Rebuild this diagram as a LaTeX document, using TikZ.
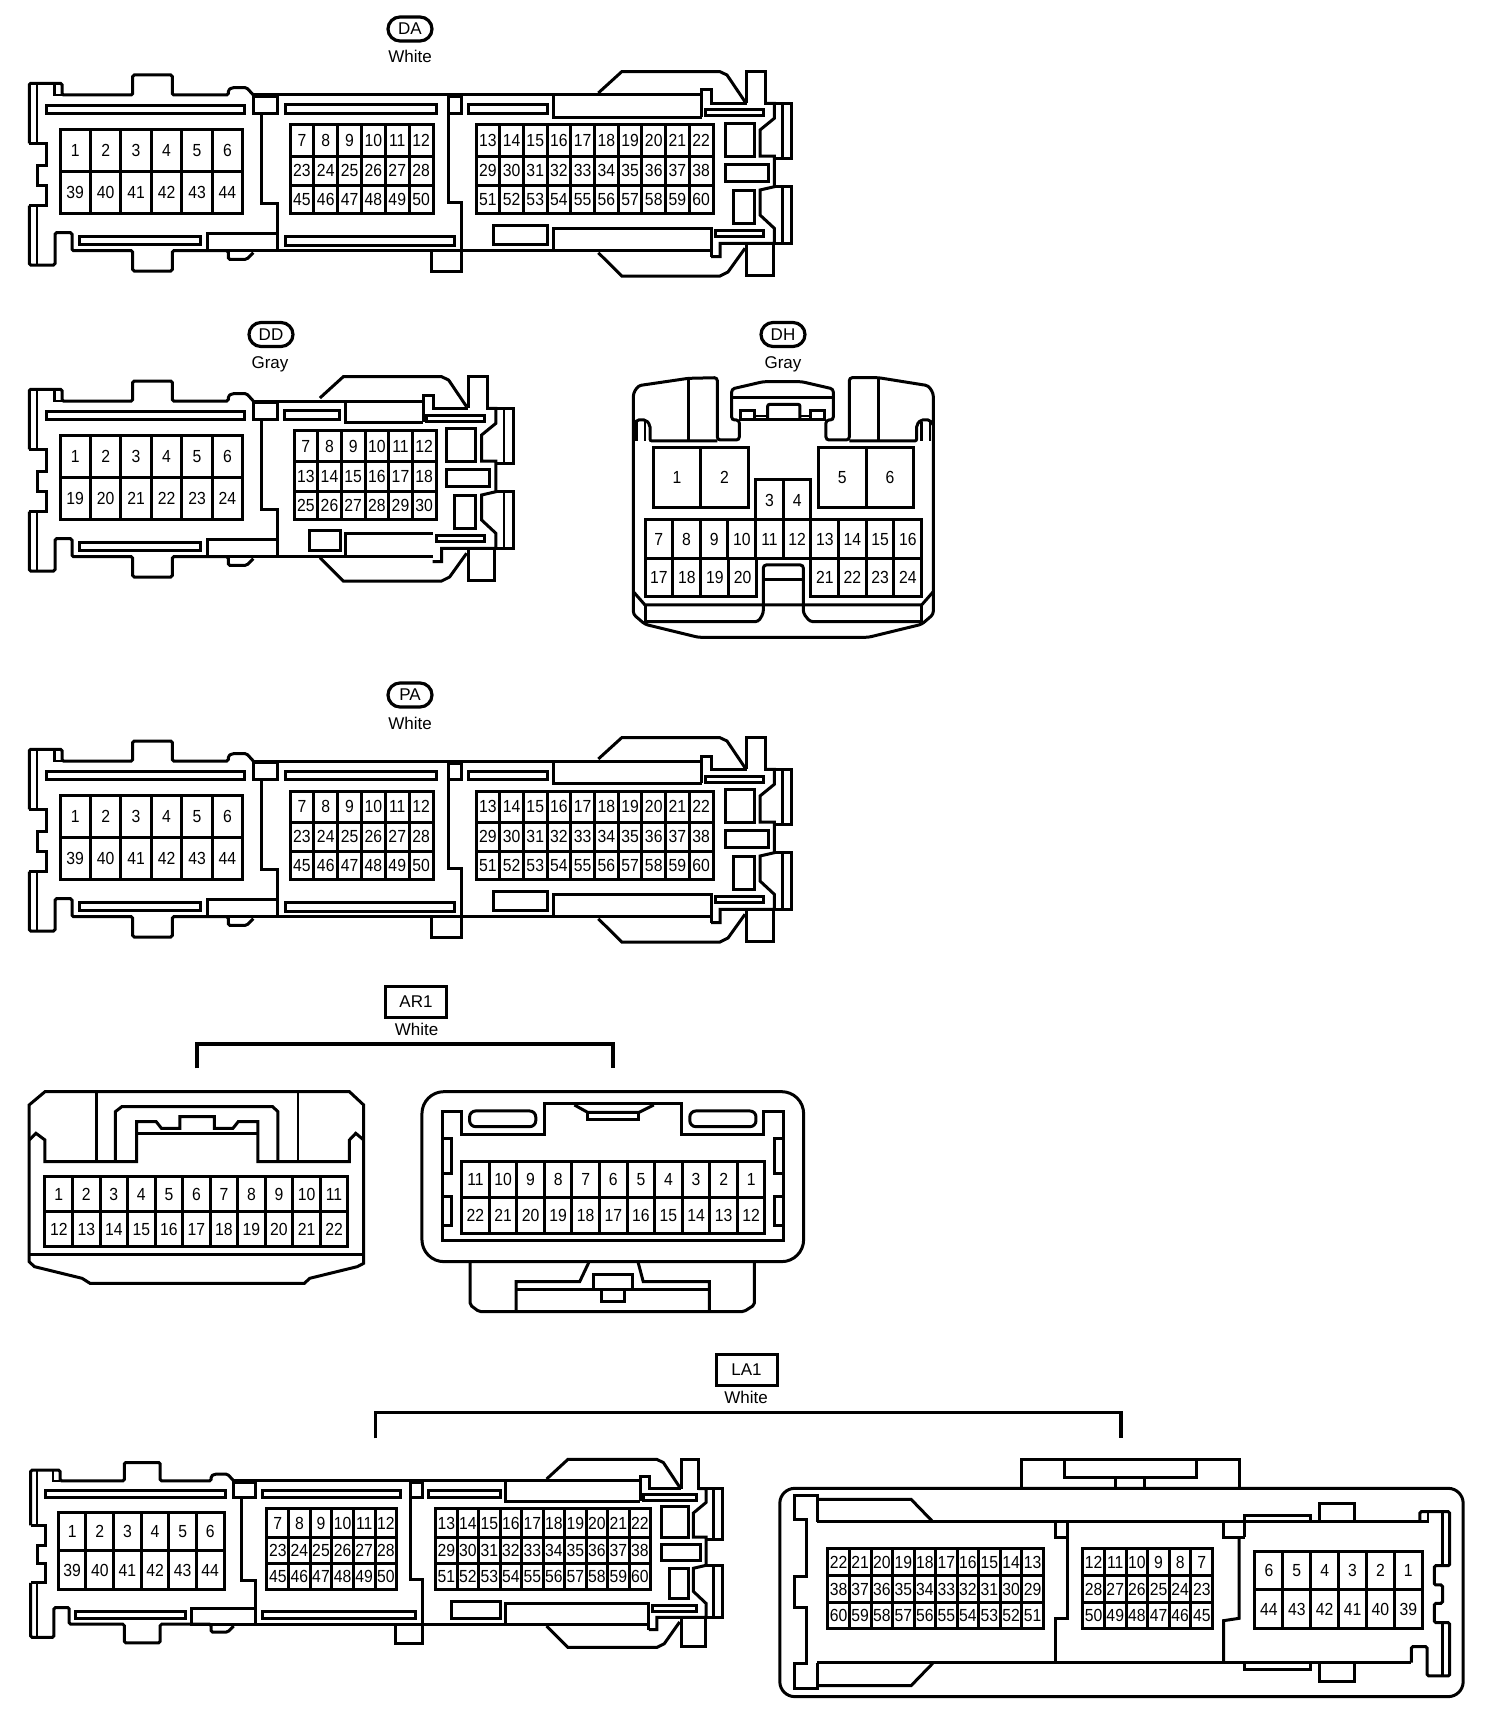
\documentclass[tikz,border=0pt]{standalone}
\usepackage{fontspec}
\setmainfont{Liberation Sans}
\newfontfamily\pinfont[FakeStretch=0.9]{Liberation Sans}
\newcounter{pinno}
\tikzset{
  shell/.style={draw=black,line width=3pt,line join=miter,fill=none},
  thin shell/.style={draw=black,line width=2.4pt,line join=miter,fill=none},
  pinframe/.style={draw=black,line width=3pt,line join=miter},
  pinlabel/.style={inner sep=0pt,font=\pinfont\fontsize{17.5}{18}\selectfont,text=black},
  stadium/.style={draw=black,line width=3.2pt,rounded corners=12pt,minimum width=44pt,minimum height=24pt,inner sep=0pt,font=\fontsize{17}{18}\selectfont},
  tagbox/.style={draw=black,line width=3pt,inner sep=0pt,font=\fontsize{17}{18}\selectfont},
  colour/.style={inner sep=0pt,font=\fontsize{17}{18}\selectfont},
  bracket/.style={draw=black,line width=3.2pt,line join=miter}
}
% #1 columns, #2 x0, #3 x1, #4 y0, #5 y1, #6 labels
\newcommand\pinrow[6]{%
  \draw[pinframe] (#2,#4) rectangle (#3,#5);
  \foreach \lab [count=\cidx from 0] in {#6} {%
    \pgfmathsetmacro\xa{#2+(#3-#2)*\cidx/#1}%
    \pgfmathsetmacro\xb{#2+(#3-#2)*(\cidx+1)/#1}%
    \ifnum\cidx>0 \draw[pinframe] (\xa,#4) -- (\xa,#5);\fi
    \stepcounter{pinno}%
    \node[pinlabel] (pin\arabic{pinno}) at ({(\xa+\xb)/2},{(#4+#5)/2}) {\lab};
  }%
}
\newcommand\shellleft{%
  \draw[shell,rounded corners=1.5pt] (29.3,143.3) -- (29.3,83.3) -- (62,83.3) -- (62,95) -- (132.7,95) -- (132.7,75) -- (172.3,75) -- (172.3,95) -- (228.3,95) -- (228.3,90) -- (232,87.7) -- (246.7,87.7) -- (253.3,95);
  \draw[shell] (29.3,143.3) -- (46,143.3) -- (46,165) -- (37.3,165) -- (37.3,185) -- (46,185) -- (46,205.7) -- (29.3,205.7);
  \draw[shell,rounded corners=1.5pt] (29.3,205.7) -- (29.3,265) -- (55,265) -- (55,232.7) -- (72,232.7) -- (72,250.7) -- (132.7,250.7) -- (132.7,271) -- (172.3,271) -- (172.3,250.7) -- (228.3,250.7) -- (228.3,259.3) -- (246.7,259.3) -- (253.3,252.7);
  \draw[thin shell] (36.7,84) -- (36.7,143.3) (36.7,205.7) -- (36.7,264);
  \draw[thin shell] (54.3,84) -- (54.3,95) -- (62,95);
  \draw[shell] (253.3,96.7) rectangle (277.3,113.3);
  \draw[shell] (261.7,113.3) -- (261.7,203.3) -- (277.3,203.3) -- (277.3,250.7);
  \draw[shell] (207.3,233.3) rectangle (277.3,250.7);
  \draw[shell] (46,105.7) rectangle (244,113.3);
  \draw[shell] (79.3,236.7) rectangle (200,244.3);
}
\newcommand\shellright{%
  \draw[shell] (598.3,93) -- (621.7,71.7) -- (720,71.7) -- (727,75) -- (745,101.7);
  \draw[shell] (701.7,117.3) -- (701.7,90) -- (711.7,90) -- (711.7,103.3) -- (746.7,103.3);
  \draw[shell] (746.7,103.3) -- (746.7,71.7) -- (765.7,71.7) -- (765.7,103.3) -- (791.7,103.3) -- (791.7,158.3) -- (774.3,158.3);
  \draw[shell] (765.7,103.3) -- (774.3,103.3) -- (774.3,118.3) -- (760,130) -- (760,156) -- (774.3,156) -- (774.3,186.7) -- (760,190) -- (760,215) -- (774.3,228.3) -- (774.3,243.3) -- (720,243.3) -- (720,256.7) -- (711,256.7);
  \draw[thin shell] (782.3,103.3) -- (782.3,158.3) (782.3,186.7) -- (782.3,243.3);
  \draw[shell] (774.3,186.7) -- (791.7,186.7) -- (791.7,243.3) -- (774.3,243.3);
  \draw[shell] (746.7,245) -- (746.7,275) -- (773.3,275) -- (773.3,243.3);
  \draw[shell] (598.3,252.7) -- (621.7,276) -- (720,276) -- (728,272) -- (745,248.3);
  \draw[shell] (725,123.3) rectangle (754.3,156.7);
  \draw[shell] (725,164.3) rectangle (768.3,181.7);
  \draw[shell] (733.3,190) rectangle (754.3,223.3);
  \draw[shell] (705,110) rectangle (763.3,116);
  \draw[shell] (715,230.7) rectangle (763.3,236.7);
}
\newcommand\longconn{%
  \shellleft
  \shellright
  \draw[shell] (253.3,95) -- (701.7,95);
  \draw[shell] (277,250.7) -- (711,250.7);
  \draw[shell] (285,105) rectangle (436.7,113.3);
  \draw[shell] (285,236.7) rectangle (454,245);
  \draw[shell] (448.7,97) rectangle (461.3,113.3);
  \draw[shell] (448.7,113.3) -- (448.7,202.3) -- (461.3,202.3) -- (461.3,250.7);
  \draw[shell] (431.5,250.7) -- (431.5,271.7) -- (461.3,271.7) -- (461.3,250.7);
  \draw[shell] (468,105) rectangle (547.6,113.3);
  \draw[shell] (493,225.7) rectangle (547.6,244.3);
  \draw[shell] (553,95.7) -- (553,117.3) -- (701.7,117.3);
  \draw[shell] (553,250.7) -- (553,228.3) -- (711,228.3) -- (711,256.7);
  \pinrow{6}{60}{242.7}{129.3}{171}{1,2,3,4,5,6}
  \pinrow{6}{60}{242.7}{171}{213.3}{39,40,41,42,43,44}
  \pinrow{6}{290}{433}{125}{156.7}{7,8,9,10,11,12}
  \pinrow{6}{290}{433}{156.7}{185}{23,24,25,26,27,28}
  \pinrow{6}{290}{433}{185}{213.3}{45,46,47,48,49,50}
  \pinrow{10}{476}{713}{125}{156.7}{13,14,15,16,17,18,19,20,21,22}
  \pinrow{10}{476}{713}{156.7}{185}{29,30,31,32,33,34,35,36,37,38}
  \pinrow{10}{476}{713}{185}{213.3}{51,52,53,54,55,56,57,58,59,60}
}
\begin{document}
\begin{tikzpicture}[x=1pt,y=-1pt]
\useasboundingbox (0,0) rectangle (1504,1718);
\fill[white] (0,0) rectangle (1504,1718);

% ---- DA
\node[stadium] (tagDA) at (410,29) {DA};
\node[colour] (colDA) at (410,56) {White};
\longconn

% ---- DD
\node[stadium] (tagDD) at (271,334.5) {DD};
\node[colour] (colDD) at (270,364.5) {Gray};
\begin{scope}[shift={(0,306)}]
  \shellleft
  \pinrow{6}{60}{242.7}{129.3}{171}{1,2,3,4,5,6}
  \pinrow{6}{60}{242.7}{171}{213.3}{19,20,21,22,23,24}
\end{scope}
\begin{scope}[shift={(-278.4,305)}]
  \shellright
\end{scope}
\draw[shell] (253.3,401) -- (423.4,401);
\draw[shell] (277,556) -- (432.7,556);
\draw[shell] (284.7,410.7) rectangle (339.9,419);
\draw[shell] (345,401) -- (345,422.5) -- (423.4,422.5);
\draw[shell] (345,556) -- (345,533.5) -- (432.7,533.5);
\draw[shell] (309,530) rectangle (340,550);
\pinrow{6}{294}{436}{430.7}{461.7}{7,8,9,10,11,12}
\pinrow{6}{294}{436}{461.7}{491}{13,14,15,16,17,18}
\pinrow{6}{294}{436}{491}{519.3}{25,26,27,28,29,30}

% ---- DH
\node[stadium] (tagDH) at (783,334.5) {DH};
\node[colour] (colDH) at (783,364.5) {Gray};
\begin{scope}[shift={(620,365)},x=0.3333pt,y=-0.3333pt]
  \draw[shell,rounded corners=3pt] (40,400) -- (40,85) -- (55,62) -- (205,40) -- (292,38) -- (292,225) -- (358,225) -- (358,165) -- (335,165) -- (335,72) -- (430,50) -- (545,50) -- (640,72) -- (640,165) -- (618,165) -- (618,225) -- (688,225) -- (688,38) -- (775,38) -- (925,62) -- (940,85) -- (940,748) -- (905,778) -- (745,817) -- (235,817) -- (75,778) -- (40,748) -- cycle;
  \draw[shell] (205,40) -- (205,225) (775,40) -- (775,225);
  \draw[shell,rounded corners=2pt] (40,180) -- (50,165) -- (78,165) -- (90,180) -- (90,228) -- (292,228);
  \draw[thin shell] (50,170) -- (50,228) (75,170) -- (75,228);
  \draw[shell,rounded corners=2pt] (940,180) -- (930,165) -- (902,165) -- (890,180) -- (890,228) -- (688,228);
  \draw[thin shell] (930,170) -- (930,228) (905,170) -- (905,228);
  \draw[shell] (337,97) -- (640,97);
  \draw[shell] (358,165) -- (618,165);
  \draw[shell] (362,137) rectangle (405,165);
  \draw[shell] (572,137) rectangle (615,165);
  \draw[shell,rounded corners=2pt] (443,160) -- (443,118) -- (540,118) -- (540,160);
  \draw[thin shell] (405,153) -- (443,153) (540,153) -- (572,153);
  \pinrow{2}{100}{385}{248}{428}{1,2}
  \pinrow{2}{595}{882}{248}{428}{5,6}
  \pinrow{2}{407}{573}{345}{465}{3,4}
  \pinrow{10}{75}{905}{465}{580}{7,8,9,10,11,12,13,14,15,16}
  \pinrow{4}{75}{410}{580}{695}{17,18,19,20}
  \pinrow{4}{573}{905}{580}{695}{21,22,23,24}
  \draw[shell] (40,680) -- (75,720) -- (905,720) -- (940,680);
  \draw[shell] (75,720) -- (75,770) (905,720) -- (905,770);
  \draw[shell,rounded corners=3pt] (75,770) -- (415,770) -- (430,745) -- (430,600) -- (550,600) -- (550,745) -- (570,770) -- (905,770);
  \draw[shell] (430,645) -- (550,645);
\end{scope}

% ---- PA
\node[stadium] (tagPA) at (410,695) {PA};
\node[colour] (colPA) at (410,723) {White};
\begin{scope}[shift={(0,666)}]
  \longconn
\end{scope}

% ---- AR1
\node[tagbox,minimum width=61pt,minimum height=31pt] (tagAR) at (416,1001.5) {AR1};
\node[colour] (colAR) at (416.6,1029.3) {White};
\coordinate (arA) at (197,1068.3);
\coordinate (arB) at (613,1068.3);
\coordinate (arT) at (400,1044);
\draw[bracket] (arA) -- (arA|-arT) -- (arB|-arT) -- (arB);
\begin{scope}[shift={(0,970)},x=0.5294pt,y=-0.3333pt]
  \draw[shell] (85,365) -- (660,365) -- (687,405) -- (687,880) -- (675,890) -- (585,925) -- (575,940) -- (170,940) -- (155,925) -- (65,890) -- (55,875) -- (55,405) -- cycle;
  \draw[shell] (55,855) -- (687,855);
  \draw[thin shell] (182,368) -- (182,575) (563,368) -- (563,575);
  \draw[shell] (55,510) -- (68,490) -- (85,510) -- (85,575) -- (258,575) -- (258,455) -- (295,455) -- (305,475) -- (340,475) -- (340,440) -- (405,440) -- (405,475) -- (440,475) -- (450,455) -- (487,455) -- (487,575) -- (660,575) -- (660,510) -- (672,490) -- (687,510);
  \draw[shell] (218,575) -- (218,425) -- (230,410) -- (515,410) -- (525,425) -- (525,575);
  \draw[shell] (258,490) -- (487,490);
  \pinrow{11}{85}{657}{620}{725}{1,2,3,4,5,6,7,8,9,10,11}
  \pinrow{11}{85}{657}{725}{830}{12,13,14,15,16,17,18,19,20,21,22}
  % right connector
  \draw[shell,rounded corners=22pt] (797,365) rectangle (1518,875);
  \draw[shell,rounded corners=2pt] (888,875) -- (888,1005) -- (905,1025) -- (1405,1025) -- (1425,1005) -- (1425,875);
  \draw[shell] (975,1025) -- (975,935) -- (1095,935) -- (1112,878);
  \draw[shell] (1205,875) -- (1215,935) -- (1340,935) -- (1340,1025);
  \draw[shell] (975,958) -- (1340,958);
  \draw[shell] (1122,913) rectangle (1195,958);
  \draw[shell] (1137,958) rectangle (1180,995);
  \draw[shell] (835,812) -- (835,425) -- (872,425) -- (872,493) -- (1028,493) -- (1028,400) -- (1288,400) -- (1288,493) -- (1443,493) -- (1443,425) -- (1480,425) -- (1480,812) -- cycle;
  \draw[shell,rounded corners=6pt] (887,423) rectangle (1012,470);
  \draw[shell,rounded corners=6pt] (1303,423) rectangle (1428,470);
  \draw[shell] (1085,405) -- (1110,427) -- (1207,427) -- (1235,405);
  \draw[shell] (1110,427) -- (1110,450) -- (1207,450) -- (1207,427);
  \draw[shell] (835,505) rectangle (853,610);
  \draw[shell] (835,680) rectangle (853,768);
  \draw[shell] (1463,505) rectangle (1480,610);
  \draw[shell] (1463,680) rectangle (1480,768);
  \pinrow{11}{872}{1445}{575}{683}{11,10,9,8,7,6,5,4,3,2,1}
  \pinrow{11}{872}{1445}{683}{790}{22,21,20,19,18,17,16,15,14,13,12}
\end{scope}

% ---- LA1
\node[tagbox,minimum width=61pt,minimum height=31pt] (tagLA) at (746.5,1370) {LA1};
\node[colour] (colLA) at (746,1397.3) {White};
\coordinate (laA) at (375.5,1438.3);
\coordinate (laB) at (1121,1438.3);
\coordinate (laT) at (700,1412.7);
\draw[bracket] (laA) -- (laA|-laT) -- (laB|-laT) -- (laB);
\begin{scope}[shift={(3.93,1393.5)},xscale=0.907,yscale=0.92]
  \longconn
\end{scope}
\begin{scope}[shift={(750,1340)},x=0.4809pt,y=-0.3333pt]
  \draw[shell,rounded corners=15pt] (62,445) rectangle (1483,1070);
  \draw[shell] (565,445) -- (565,357) -- (1017,357) -- (1017,445);
  \draw[shell] (653,360) -- (653,412) -- (928,412) -- (928,360);
  \draw[shell] (760,412) -- (760,445) (820,412) -- (820,445);
  \draw[shell] (140,545) -- (140,467) -- (92,467) -- (92,540) -- (117,540) -- (117,710) -- (92,710) -- (92,803) -- (117,803) -- (117,972) -- (92,972) -- (92,1047) -- (140,1047) -- (140,970);
  \draw[shell] (140,478) -- (335,478) -- (380,545);
  \draw[shell] (140,1037) -- (335,1037) -- (380,970);
  \draw[shell] (140,545) -- (1393,545);
  \draw[shell] (140,968) -- (1375,968);
  \draw[shell] (635,548) -- (635,592) -- (660,592) -- (660,835) -- (635,835) -- (635,968);
  \draw[shell] (660,548) -- (660,592);
  \draw[shell] (985,548) -- (985,592) -- (1030,592);
  \draw[shell] (1028,548) -- (1028,592);
  \draw[shell] (1017,592) -- (1017,835) -- (985,842) -- (985,968);
  \draw[shell] (1028,545) -- (1028,525) -- (1165,525) -- (1165,545);
  \draw[shell] (1185,545) -- (1185,490) -- (1258,490) -- (1258,545);
  \draw[shell] (1028,968) -- (1028,990) -- (1165,990) -- (1165,968);
  \draw[shell] (1185,968) -- (1185,1025) -- (1258,1025) -- (1258,968);
  \draw[shell,rounded corners=1.5pt] (1393,545) -- (1393,515) -- (1455,515) -- (1455,677) -- (1423,677) -- (1423,735) -- (1440,735) -- (1440,790) -- (1423,790) -- (1423,848) -- (1455,848) -- (1455,1008) -- (1408,1008) -- (1408,920) -- (1375,920) -- (1375,968);
  \draw[thin shell] (1440,515) -- (1440,677) (1440,848) -- (1440,1005);
  \draw[thin shell] (1410,515) -- (1410,545) -- (1393,545);
  \pinrow{10}{162}{610}{627}{707}{22,21,20,19,18,17,16,15,14,13}
  \pinrow{10}{162}{610}{707}{787}{38,37,36,35,34,33,32,31,30,29}
  \pinrow{10}{162}{610}{787}{867}{60,59,58,57,56,55,54,53,52,51}
  \pinrow{6}{692}{962}{627}{707}{12,11,10,9,8,7}
  \pinrow{6}{692}{962}{707}{787}{28,27,26,25,24,23}
  \pinrow{6}{692}{962}{787}{867}{50,49,48,47,46,45}
  \pinrow{6}{1050}{1398}{635}{750}{6,5,4,3,2,1}
  \pinrow{6}{1050}{1398}{750}{867}{44,43,42,41,40,39}
\end{scope}
\end{tikzpicture}
\end{document}
